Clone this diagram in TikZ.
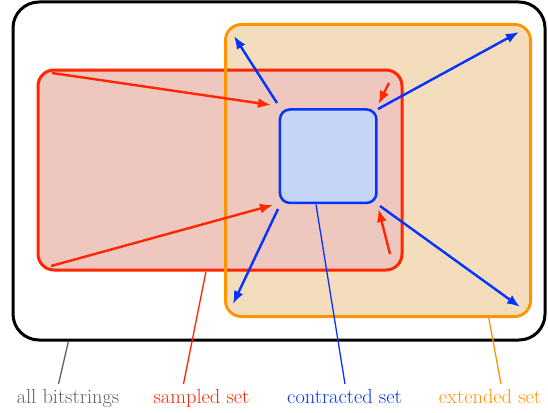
\documentclass[tikz,border=0pt]{standalone}
\usetikzlibrary{arrows.meta}

\definecolor{setred}{HTML}{FF2600}
\definecolor{setredfill}{HTML}{EEC8BE}
\definecolor{setorange}{HTML}{FF9300}
\definecolor{setorangefill}{HTML}{F3DDBD}
\definecolor{setblue}{HTML}{0433FF}
\definecolor{setbluefill}{HTML}{C5D5F5}
\definecolor{labelgray}{HTML}{5E6166}

\tikzset{
  setbox/.style={rounded corners=#1, line width=3pt, inner sep=0pt},
  flow/.style={line width=2.4pt, -{Latex[length=13pt,width=10pt]}},
  leader/.style={line width=1.3pt},
  caption/.style={anchor=base, inner sep=0pt, font=\rmfamily\fontsize{20.4}{24}\selectfont}
}

\begin{document}
\begin{tikzpicture}[x=1pt, y=-1pt]
\useasboundingbox (0,0) rectangle (548,412);

% universe of all bitstrings
\node[setbox=26pt, draw=black, minimum width=532pt, minimum height=338pt] (all) at (279,171) {};

% extended set: fill first, outline later so it sits above the sampled set
\node[setbox=16pt, fill=setorangefill, minimum width=302pt, minimum height=289pt] (ext) at (378,170.5) {};

% sampled set
\node[setbox=16pt, draw=setred, fill=setredfill, minimum width=364pt, minimum height=200pt] (samp) at (220,170) {};

% outline of the extended set
\draw[setbox=16pt, setorange] (ext.south west) rectangle (ext.north east);

% contracted set
\node[setbox=10pt, line width=2.5pt, draw=setblue, fill=setbluefill, minimum width=96.5pt, minimum height=93.5pt] (con) at (328.2,156.2) {};

% ends of the contraction arrows
\coordinate (r1s) at (52,73);   \coordinate (r1e) at (271,105);
\coordinate (r2s) at (51,266);  \coordinate (r2e) at (273,205);
\coordinate (r3s) at (389,83);  \coordinate (r3e) at (378.5,104);
\coordinate (r4s) at (390,254); \coordinate (r4e) at (378.5,209);

\draw[flow, setred] (r1s) -- (r1e);
\draw[flow, setred] (r2s) -- (r2e);
\draw[flow, setred] (r3s) -- (r3e);
\draw[flow, setred] (r4s) -- (r4e);

% ends of the extension arrows
\coordinate (b1s) at (277,103); \coordinate (b1e) at (234,36);
\coordinate (b2s) at (378,109); \coordinate (b2e) at (519,32);
\coordinate (b3s) at (380,206); \coordinate (b3e) at (520,307);
\coordinate (b4s) at (278,209); \coordinate (b4e) at (233,304);

\draw[flow, setblue] (b1s) -- (b1e);
\draw[flow, setblue] (b2s) -- (b2e);
\draw[flow, setblue] (b3s) -- (b3e);
\draw[flow, setblue] (b4s) -- (b4e);

% captions
\node[caption, text=labelgray] (lall)  at (68,403)    {all bitstrings};
\node[caption, text=setred]    (lsamp) at (201.5,403) {sampled set};
\node[caption, text=setblue]   (lcon)  at (344.5,403) {contracted set};
\node[caption, text=setorange] (lext)  at (490,403)   {extended set};

% leader lines from each set to its caption
\coordinate (qall)  at (68.5,341);  \coordinate (pall)  at (58.5,384);
\coordinate (qsamp) at (206,271.5); \coordinate (psamp) at (183.5,384);
\coordinate (qcon)  at (316,204.5); \coordinate (pcon)  at (345,384);
\coordinate (qext)  at (488.5,316.5); \coordinate (pext) at (501,384);

\draw[leader, labelgray] (qall) -- (pall);
\draw[leader, setred]    (qsamp) -- (psamp);
\draw[leader, setblue]   (qcon) -- (pcon);
\draw[leader, setorange] (qext) -- (pext);
\end{tikzpicture}
\end{document}
